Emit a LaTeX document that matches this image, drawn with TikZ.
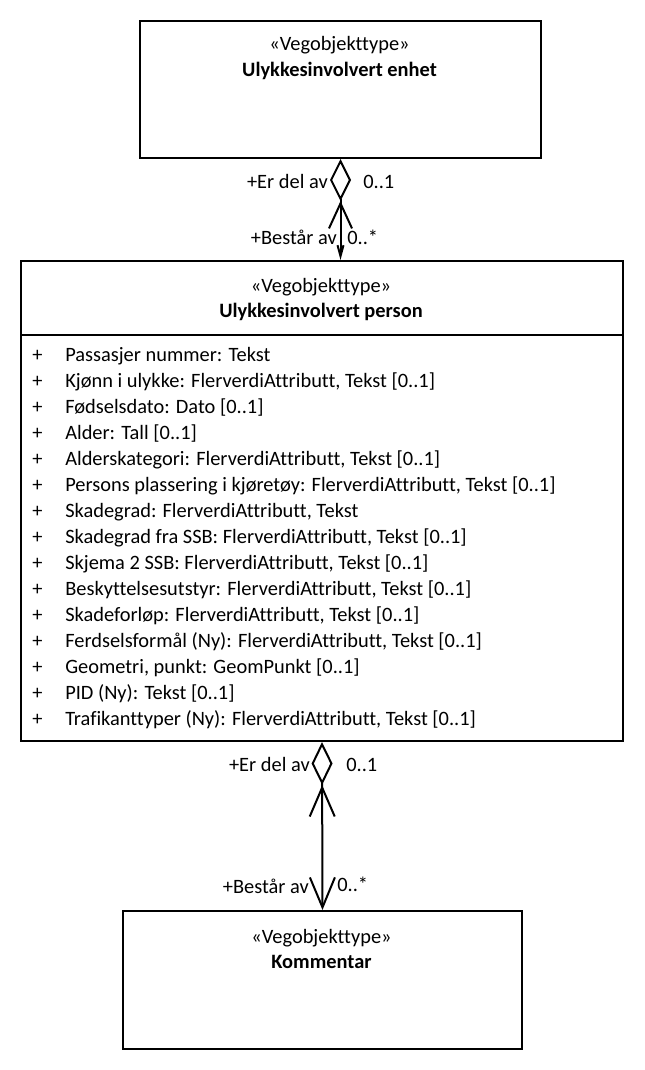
\documentclass[tikz,border=0pt]{standalone}
\usepackage{fontspec}
\setmainfont{Carlito}[Ligatures=NoCommon]
\usetikzlibrary{arrows.meta}

\begin{document}
\begin{tikzpicture}[x=0.75pt,y=-0.75pt,
  every node/.style={font=\fontsize{15.3}{19.5}\selectfont,inner sep=0pt},
  klasse/.style={draw,line width=1.5pt,rectangle,anchor=north west},
  txt/.style={anchor=base},
  attr/.style={anchor=base west},
  rolle/.style={anchor=base east},
  mult/.style={anchor=base west},
  assoc/.style={line width=1.5pt}]
  \useasboundingbox (0,0) rectangle (644,1070);

  \node[klasse,minimum width=300.75pt,minimum height=102.75pt] (enhet) at (139,20) {};
  \node[txt] (enhst) at (339.5,51) {«Vegobjekttype»};
  \node[txt] (enhnm) at (339.5,77) {\bfseries Ulykkesinvolvert enhet};

  \node[klasse,minimum width=451.5pt,minimum height=360pt] (person) at (20,260) {};
  \node[txt] (perst) at (321,292) {«Vegobjekttype»};
  \node[txt] (pernm) at (321,317) {\bfseries Ulykkesinvolvert person};
  \draw[line width=1.5pt] (person.west |- 0,335) -- (person.east |- 0,335);
  \foreach \t [count=\i from 0] in {Passasjer nummer: Tekst,
      {Kjønn i ulykke: FlerverdiAttributt, Tekst [0..1]},
      Fødselsdato: Dato [0..1],
      Alder: Tall [0..1],
      {Alderskategori: FlerverdiAttributt, Tekst [0..1]},
      {Persons plassering i kjøretøy: FlerverdiAttributt, Tekst [0..1]},
      {Skadegrad: FlerverdiAttributt, Tekst},
      {Skadegrad fra SSB: FlerverdiAttributt, Tekst [0..1]},
      {Skjema 2 SSB: FlerverdiAttributt, Tekst [0..1]},
      {Beskyttelsesutstyr: FlerverdiAttributt, Tekst [0..1]},
      {Skadeforløp: FlerverdiAttributt, Tekst [0..1]},
      {Ferdselsformål (Ny): FlerverdiAttributt, Tekst [0..1]},
      {Geometri, punkt: GeomPunkt [0..1]},
      PID (Ny): Tekst [0..1],
      {Trafikanttyper (Ny): FlerverdiAttributt, Tekst [0..1]}}
  {
    \node[attr] (plus\i) at (32,361+26*\i) {+};
    \node[attr] (attr\i) at (65,361+26*\i) {\t};
  }

  \node[klasse,minimum width=299.25pt,minimum height=103.5pt] (kommentar) at (122,910) {};
  \node[txt] (komst) at (321.5,943) {«Vegobjekttype»};
  \node[txt] (komnm) at (321.5,968) {\bfseries Kommentar};

  % aggregering enhet - person
  \draw[assoc,{Diamond[open,length=31.5pt,width=15.75pt]Straight Barb[length=18.75pt,width=17.25pt]}-{Straight Barb[length=8.25pt,width=4.5pt]}]
    (enhet.south) -- (enhet.south |- person.north);
  \node[rolle] (r1a) at (328,189) {+Er del av};
  \node[mult] (m1a) at (363,189) {0..1};
  \node[rolle] (r1b) at (337,244) {+Består av};
  \node[mult] (m1b) at (347,244) {0..*};

  % aggregering person - kommentar
  \draw[assoc,{Diamond[open,length=32.25pt,width=15.75pt]Straight Barb[length=21.75pt,width=18.75pt]}-{Straight Barb[length=22.5pt,width=18.75pt]}]
    (person.south) -- (kommentar.north);
  \node[rolle] (r2a) at (310,771) {+Er del av};
  \node[mult] (m2a) at (346,771) {0..1};
  \node[rolle] (r2b) at (309,893) {+Består av};
  \node[mult] (m2b) at (337,891) {0..*};
\end{tikzpicture}
\end{document}
